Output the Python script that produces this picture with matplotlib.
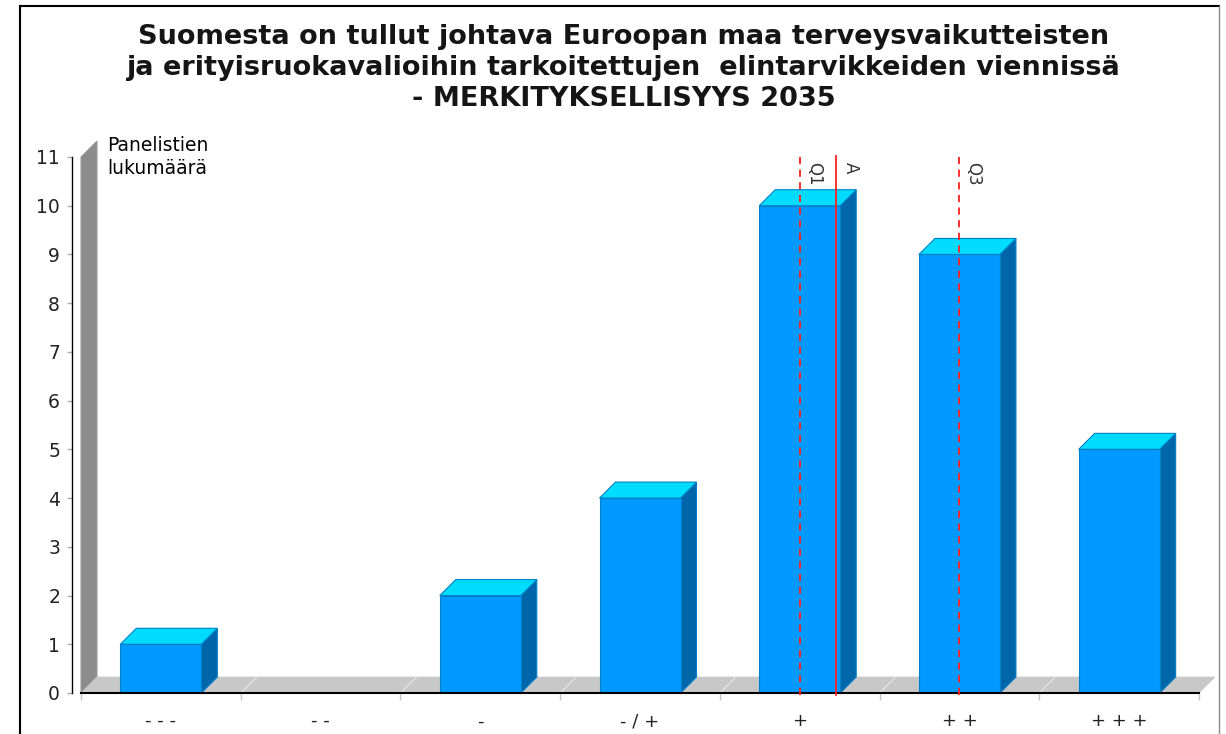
import numpy as np
import matplotlib
matplotlib.use('Agg')
import matplotlib.pyplot as plt
from matplotlib.patches import Polygon
from matplotlib.lines import Line2D

# data
categories = ['- - -', '- -', '-', '- / +', '+', '+ +', '+ + +']
counts = [1, 0, 2, 4, 10, 9, 5]
# markers on the 1..7 scale
marker_names = ['Q1', 'A', 'Q3']
marker_values = [5, 5.23, 6]
marker_styles = ['--', '-', '--']

title = ('Suomesta on tullut johtava Euroopan maa terveysvaikutteisten\n'
         'ja erityisruokavalioihin tarkoitettujen  elintarvikkeiden viennissä\n'
         '- MERKITYKSELLISYYS 2035')

W, H = 1226, 734
fig = plt.figure(figsize=(W / 100, H / 100), dpi=100)
fig.patch.set_facecolor('white')

# axes box in pixels: x from 81 to 1199, y 0 at 693, y 11 at 157
ax = fig.add_axes([81 / W, 41 / H, 1118 / W, 536 / H])
ax.set_xlim(-0.5, 6.5)
ax.set_ylim(0, 11)
ax.patch.set_visible(False)

# depth of the fake 3d in data units (about 16 px)
dx = 16 / (1118 / 7)
dy = 16 / (536 / 11)

# back wall and floor
wall = Polygon([(-0.5, 0), (-0.5 + dx, dy), (-0.5 + dx, 11 + dy), (-0.5, 11)],
               closed=True, facecolor='#8c8c8c', edgecolor='#9a9a9a', lw=0.8,
               clip_on=False, zorder=1)
ax.add_patch(wall)
floor = Polygon([(-0.5, 0), (6.5, 0), (6.5 + dx, dy), (-0.5 + dx, dy)],
                closed=True, facecolor='#c8c8c8', edgecolor='#c8c8c8', lw=0.5,
                clip_on=False, zorder=2)
ax.add_patch(floor)
for b in np.arange(0.5, 6.5, 1.0):
    ax.plot([b, b + dx], [0, dy], color='#e2e2e2', lw=1, zorder=2.5, clip_on=False)

# bars
x = np.arange(len(categories))
bw = 81 / (1118 / 7)
front = '#0099ff'
top_c = '#00dcff'
side_c = '#0066aa'
edge = '#0080c8'
for xi, v in zip(x, counts):
    if v == 0:
        continue
    x0, x1 = xi - bw / 2, xi + bw / 2
    ax.add_patch(Polygon([(x1, 0), (x1 + dx, dy), (x1 + dx, v + dy), (x1, v)],
                         closed=True, facecolor=side_c, edgecolor=edge, lw=0.8,
                         zorder=3, clip_on=False))
    ax.add_patch(Polygon([(x0, v), (x1, v), (x1 + dx, v + dy), (x0 + dx, v + dy)],
                         closed=True, facecolor=top_c, edgecolor=edge, lw=0.8,
                         zorder=3, clip_on=False))
ax.bar(x, counts, width=bw, color=front, edgecolor=edge, linewidth=0.8, zorder=4)

# quartile / mean markers
for name, val, ls in zip(marker_names, marker_values, marker_styles):
    xv = val - 1
    ax.plot([xv, xv], [-0.05, 11.03], color='#ff2020', lw=1.3, ls=ls,
            dashes=(4, 3) if ls == '--' else (None, None), zorder=6, clip_on=False)
    ax.annotate(name, xy=(xv, 11), xytext=(5, -5), textcoords='offset pixels',
                rotation=270, ha='left', va='top', fontsize=12, color='#333333',
                zorder=7)

# axes styling
for s in ['top', 'right']:
    ax.spines[s].set_visible(False)
ax.spines['left'].set_position(('outward', 6.5))
ax.spines['left'].set_linewidth(1)
ax.spines['bottom'].set_linewidth(1.5)
ax.spines['bottom'].set_zorder(5)
ax.set_yticks(range(0, 12))
ax.tick_params(axis='y', length=3.6, width=1, pad=5, labelsize=13.5,
               color='#aaaaaa', labelcolor='#222222')
ax.set_xticks(x)
ax.set_xticklabels(categories)
ax.tick_params(axis='x', which='major', length=0, pad=14, labelsize=13,
               labelcolor='#222222')
ax.set_xticks(np.arange(-0.5, 7, 1.0), minor=True)
ax.tick_params(axis='x', which='minor', length=5, width=1, color='#c8c8c8')

fig.text(107 / W, 1 - 136 / H, 'Panelistien\nlukumäärä', ha='left', va='top',
         fontsize=13.5, linespacing=1.3)

fig.text(624 / W, 1 - 68 / H, title, ha='center', va='center', fontsize=19.5,
         fontweight='bold', linespacing=1.25, color='#151515')

# outer frame
fig.add_artist(Line2D([20 / W, 20 / W], [0, 1 - 6 / H], color='black', lw=1.5,
                      transform=fig.transFigure))
fig.add_artist(Line2D([20 / W, 1219 / W], [1 - 6 / H, 1 - 6 / H], color='black', lw=1.5,
                      transform=fig.transFigure))
fig.add_artist(Line2D([1219 / W, 1219 / W], [0, 1 - 6 / H], color='#888888', lw=1,
                      transform=fig.transFigure))

fig.savefig('out.png', dpi=100)
